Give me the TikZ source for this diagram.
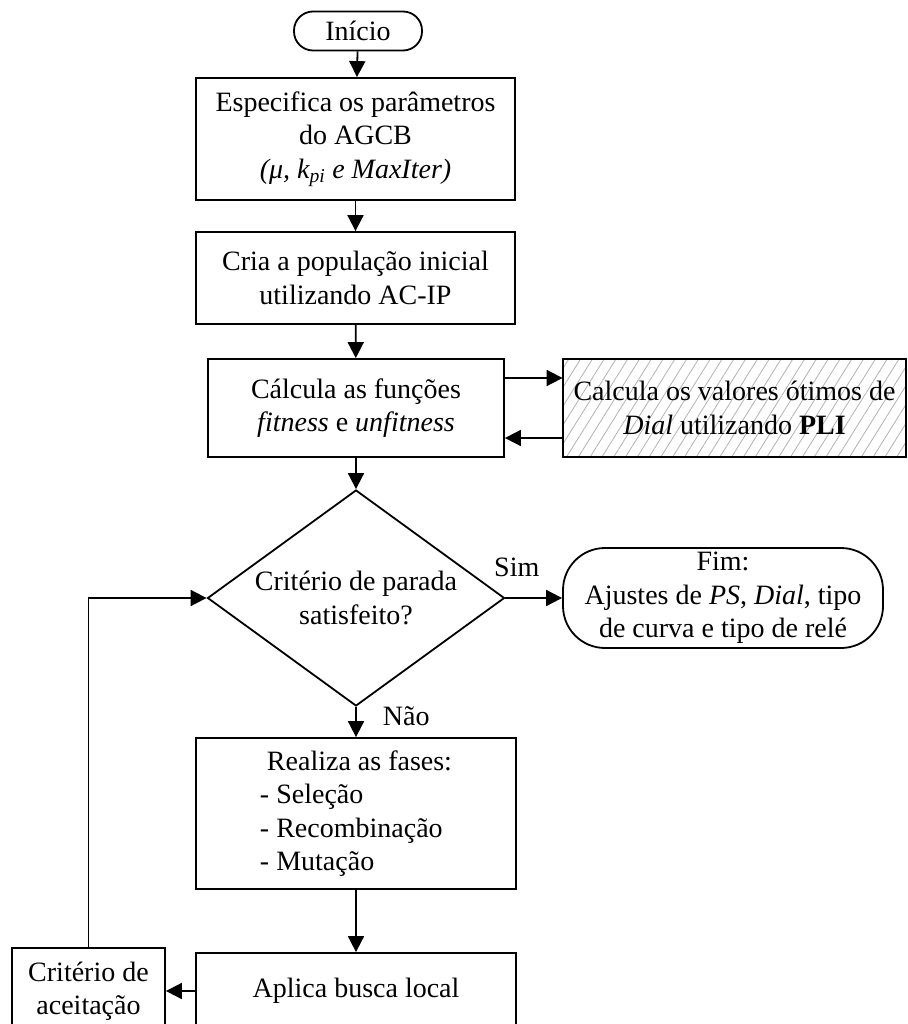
\documentclass[tikz,border=0pt]{standalone}
\usepackage{fontspec}
\setmainfont{Liberation Serif}
\usetikzlibrary{arrows.meta,shapes.geometric,patterns.meta}

\begin{document}
\begin{tikzpicture}[x=1pt,y=-1pt,
  every node/.style={font=\fontsize{28}{33.5}\selectfont, inner sep=0pt},
  box/.style={draw, line width=1.8pt, align=center},
  terminal/.style={box, rounded corners=19pt},
  endbox/.style={box, rounded corners=42pt},
  decision/.style={box, shape=diamond, aspect=1.375},
  hatched/.style={box, pattern={Lines[angle=58,distance=10pt,line width=0.8pt]}, pattern color=gray!60},
  arr/.style={line width=1.8pt, -{Triangle[length=16pt,width=16pt]}},
  lbl/.style={font=\fontsize{28}{33.5}\selectfont}
]
\useasboundingbox (0,0) rectangle (907,1024);
\clip (0,0) rectangle (907,1024);

% main column
\node[terminal, minimum width=128pt, minimum height=39pt] (start) at (358,31) {Início};
\node[box, minimum width=319pt, minimum height=122pt] (spec) at (355.5,139)
  {Especifica os parâmetros\\do AGCB\\\textit{(μ, k\textsubscript{pi} e MaxIter)}};
\node[box, minimum width=319pt, minimum height=92pt] (pop) at (355.5,278)
  {Cria a população inicial\\utilizando AC-IP};
\node[box, minimum width=296pt, minimum height=98pt] (fit) at (356,408)
  {Cálcula as funções\\\textit{fitness} e \textit{unfitness}};
\node[hatched, minimum width=343pt, minimum height=98pt] (pli) at (734.5,408)
  {Calcula os valores ótimos de\\\textit{Dial} utilizando \textbf{PLI}};
\node[decision, minimum width=297pt, minimum height=216pt] (dec) at (356,598)
  {Critério de parada\\satisfeito?};
\node[endbox, minimum width=320pt, minimum height=100pt] (fim) at (723,598)
  {Fim:\\Ajustes de \textit{PS}, \textit{Dial}, tipo\\de curva e tipo de relé};
\node[box, align=left, minimum width=320pt, minimum height=151pt] (fases) at (356,813.5)
  {\hspace*{7pt}Realiza as fases:\\- Seleção\\- Recombinação\\- Mutação};
\node[box, minimum width=320pt, minimum height=76pt] (busca) at (356,991)
  {Aplica busca local};
\node[box, minimum width=153pt, minimum height=86pt] (aceit) at (88.5,991)
  {Critério de\\aceitação};

% connectors
\draw[arr] (start) -- (spec);
\draw[arr] (spec) -- (pop);
\draw[arr] (pop) -- (fit);
\draw[arr] (fit) -- (dec);
\draw[arr] ([yshift=30pt]fit.east) -- ([yshift=30pt]pli.west);
\draw[arr] ([yshift=-30pt]pli.west) -- ([yshift=-30pt]fit.east);
\draw[arr] (dec.east) -- node[lbl, pos=0.2, above=20pt] (sim) {Sim} (fim.west);
\draw[arr] (dec.south) -- node[lbl, pos=0.3, right=26pt] (nao) {Não} (fases.north);
\draw[arr] (fases) -- (busca);
\draw[arr] (busca.west) -- (aceit.east);
\draw[arr] (aceit.north) |- (dec.west);
\end{tikzpicture}
\end{document}
